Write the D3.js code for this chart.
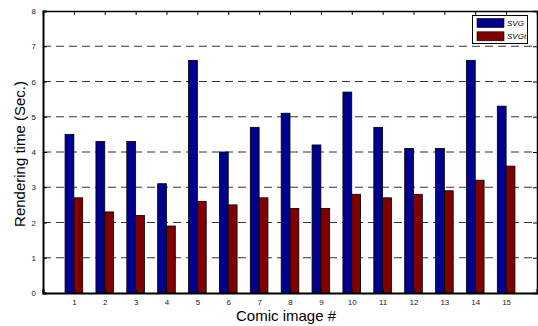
<!DOCTYPE html>
<html><head><meta charset="utf-8">
<script src="https://cdn.jsdelivr.net/npm/d3@7"></script>
<style>
html,body{margin:0;padding:0;background:#fff;}
svg{display:block;font-family:"Liberation Sans",Arial,sans-serif;}
</style></head>
<body>
<svg id="c" width="538" height="326"></svg>
<script>
const categories = [1,2,3,4,5,6,7,8,9,10,11,12,13,14,15];
const svgValues  = [4.5,4.3,4.3,3.1,6.6,4.0,4.7,5.1,4.2,5.7,4.7,4.1,4.1,6.6,5.3];
const svgtValues = [2.7,2.3,2.2,1.9,2.6,2.5,2.7,2.4,2.4,2.8,2.7,2.8,2.9,3.2,3.6];
const seriesNames = ["SVG","SVGt"];
const seriesColors = ["#00008f","#7f0000"];
const yTicks = [0,1,2,3,4,5,6,7,8];
const gridValues = [1,2,3,4,5,6,7];

const svg = d3.select("#c");
const L=43, R=537, T=11, B=293;
const x = d3.scaleLinear().domain([0,16]).range([L,R]);
const y = d3.scaleLinear().domain([0,8]).range([B,T]);
const half = 0.2857;

// grid lines
svg.append("g").selectAll("line").data(gridValues).join("line")
  .attr("x1",L).attr("x2",R).attr("y1",d=>y(d)).attr("y2",d=>y(d))
  .attr("stroke","#333").attr("stroke-width",1).attr("stroke-dasharray","8,5");

// bars
const series = [svgValues, svgtValues];
series.forEach((vals,si)=>{
  svg.append("g").selectAll("rect").data(categories).join("rect")
    .attr("x",(d)=> si===0 ? x(d-half) : x(d))
    .attr("width", x(half)-x(0))
    .attr("y",(d,i)=>y(vals[i]))
    .attr("height",(d,i)=>y(0)-y(vals[i]))
    .attr("fill",seriesColors[si])
    .attr("stroke","#000").attr("stroke-width",0.8);
});

// left axis
const yAxis = d3.axisLeft(y).tickValues(yTicks).tickSize(-4).tickPadding(7).tickFormat(d3.format("d"));
const gy = svg.append("g").attr("transform",`translate(${L},0)`).call(yAxis);
gy.select(".domain").attr("stroke","#000").attr("stroke-width",2);
gy.selectAll(".tick line").attr("stroke","#000");
gy.selectAll("text").attr("font-size",8).attr("fill","#222");

// right axis (ticks only)
const gr = svg.append("g").attr("transform",`translate(${R},0)`)
  .call(d3.axisRight(y).tickValues(yTicks).tickSize(-4).tickFormat(""));
gr.select(".domain").attr("stroke","#000").attr("stroke-width",1.5);
gr.selectAll(".tick line").attr("stroke","#000");

// bottom axis
const xAxis = d3.axisBottom(x).tickValues(categories).tickSize(-4).tickPadding(6).tickFormat(d3.format("d"));
const gx = svg.append("g").attr("transform",`translate(0,${B})`).call(xAxis);
gx.select(".domain").attr("stroke","#000").attr("stroke-width",2);
gx.selectAll(".tick line").attr("stroke","#000");
gx.selectAll("text").attr("font-size",8).attr("fill","#222");

// top axis
const gt = svg.append("g").attr("transform",`translate(0,${T})`)
  .call(d3.axisTop(x).tickValues(categories).tickSize(-4).tickFormat(""));
gt.select(".domain").attr("stroke","#000").attr("stroke-width",1.5);
gt.selectAll(".tick line").attr("stroke","#000");

// axis titles
svg.append("text").attr("x",286).attr("y",321).attr("text-anchor","middle")
  .attr("font-size",15).attr("fill","#000").text("Comic image #");
svg.append("text").attr("transform",`translate(25,${(T+B)/2 + 2}) rotate(-90)`)
  .attr("text-anchor","middle").attr("font-size",15).attr("fill","#000").text("Rendering time (Sec.)");

// legend
const lg = svg.append("g");
lg.append("rect").attr("x",472.5).attr("y",15.5).attr("width",55).attr("height",28)
  .attr("fill","#fff").attr("stroke","#000").attr("stroke-width",1);
seriesNames.forEach((n,i)=>{
  lg.append("rect").attr("x",477).attr("y",18.5+i*13.3).attr("width",27).attr("height",9)
    .attr("fill",seriesColors[i]).attr("stroke","#000").attr("stroke-width",0.6);
  lg.append("text").attr("x",507).attr("y",26+i*13.3).attr("font-size",8)
    .attr("font-style","italic").attr("fill","#000").text(n);
});
</script>
</body></html>
